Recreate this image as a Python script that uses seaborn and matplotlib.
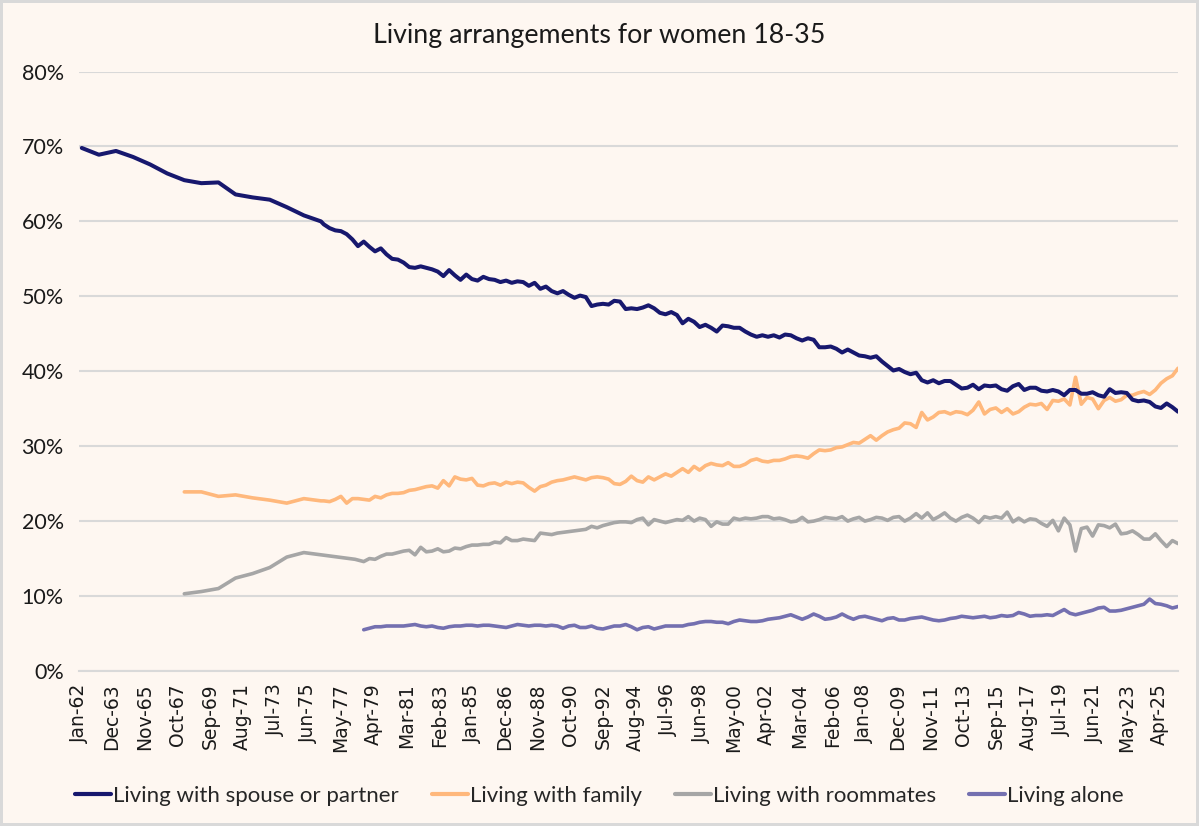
import matplotlib
matplotlib.use("Agg")
import matplotlib.pyplot as plt
import pandas as pd
import seaborn as sns

# yearly (March) readings before the monthly series begins, in percent
spouse_annual = [69.8, 68.9, 69.4, 68.6, 67.6, 66.4, 65.5, 65.1, 65.2, 63.6,
                 63.2, 62.9, 61.9, 60.8, 60.0]                  # 1962-1976
family_annual = [23.9, 23.9, 23.3, 23.5, 23.1, 22.8, 22.4, 23.0, 22.7]  # 1968-1976
roommates_annual = [10.3, 10.6, 11.0, 12.4, 13.0, 13.8, 15.2, 15.8, 15.5,
                    15.2, 14.9]                                 # 1968-1978

# readings every 4 months, May-1976 .. May-2026
spouse_4m = [59.6, 59.1,
             58.8, 58.7, 58.3, 57.6, 56.7, 57.3, 56.6, 56.0, 56.4, 55.6,
             55.0, 54.9, 54.5, 53.9, 53.8, 54.0, 53.8, 53.6, 53.3, 52.7,
             53.5, 52.8, 52.2, 52.9, 52.3, 52.1, 52.6, 52.3, 52.2, 51.9,
             52.1, 51.8, 52.0, 51.9, 51.4, 51.8, 51.0, 51.3, 50.7, 50.4,
             50.7, 50.2, 49.8, 50.1, 49.9, 48.7, 48.9, 49.0, 48.9, 49.4,
             49.3, 48.3, 48.4, 48.3, 48.5, 48.8, 48.4, 47.8, 47.6, 47.9,
             47.5, 46.4, 47.0, 46.6, 45.9, 46.2, 45.8, 45.3, 46.1, 46.0,
             45.8, 45.8, 45.3, 44.9, 44.6, 44.8, 44.6, 44.8, 44.5, 44.9,
             44.8, 44.4, 44.1, 44.4, 44.2, 43.2, 43.2, 43.3, 43.0, 42.5,
             42.9, 42.5, 42.1, 42.0, 41.8, 42.0, 41.3, 40.7, 40.1, 40.3,
             39.9, 39.6, 39.8, 38.8, 38.5, 38.8, 38.4, 38.7, 38.7, 38.2,
             37.7, 37.8, 38.2, 37.6, 38.1, 38.0, 38.1, 37.6, 37.4, 38.0,
             38.3, 37.5, 37.8, 37.8, 37.4, 37.3, 37.5, 37.3, 36.8, 37.5,
             37.5, 37.0, 37.0, 37.2, 36.8, 36.6, 37.6, 37.1, 37.2, 37.1,
             36.2, 36.0, 36.1, 35.9, 35.3, 35.1, 35.7, 35.2, 34.6]
family_4m = [22.7, 22.6,
             22.9, 23.3, 22.4, 23.0, 23.0, 22.9, 22.8, 23.3, 23.1, 23.5,
             23.7, 23.7, 23.8, 24.1, 24.2, 24.4, 24.6, 24.7, 24.4, 25.4,
             24.7, 25.9, 25.6, 25.5, 25.7, 24.8, 24.7, 25.0, 25.1, 24.8,
             25.2, 25.0, 25.2, 25.1, 24.5, 24.0, 24.6, 24.8, 25.2, 25.4,
             25.5, 25.7, 25.9, 25.7, 25.5, 25.8, 25.9, 25.8, 25.6, 25.0,
             24.9, 25.3, 26.0, 25.4, 25.2, 25.9, 25.5, 25.9, 26.3, 26.0,
             26.5, 27.0, 26.5, 27.3, 26.8, 27.4, 27.7, 27.5, 27.4, 27.8,
             27.3, 27.3, 27.6, 28.1, 28.3, 28.0, 27.9, 28.1, 28.1, 28.3,
             28.6, 28.7, 28.6, 28.4, 29.0, 29.5, 29.4, 29.5, 29.8, 29.9,
             30.2, 30.5, 30.4, 30.9, 31.4, 30.8, 31.4, 31.9, 32.2, 32.4,
             33.1, 33.0, 32.5, 34.5, 33.5, 33.9, 34.5, 34.6, 34.3, 34.6,
             34.5, 34.2, 34.8, 35.9, 34.3, 34.9, 35.1, 34.5, 35.0, 34.3,
             34.6, 35.2, 35.6, 35.5, 35.7, 34.9, 36.1, 36.0, 36.3, 35.5,
             39.2, 35.6, 36.5, 36.3, 35.0, 36.1, 36.5, 36.0, 36.2, 36.8,
             36.8, 37.1, 37.3, 36.9, 37.5, 38.4, 39.0, 39.4, 40.4]

# readings every 4 months, Sep-1978 .. May-2026
roommates_4m = [14.6, 15.0, 14.9, 15.3, 15.6,
                15.6, 15.8, 16.0, 16.1, 15.5, 16.5, 15.9, 16.0, 16.3, 15.9,
                16.0, 16.4, 16.3, 16.6, 16.8, 16.8, 16.9, 16.9, 17.2, 17.1,
                17.8, 17.4, 17.4, 17.6, 17.5, 17.4, 18.4, 18.3, 18.2, 18.4,
                18.5, 18.6, 18.7, 18.8, 18.9, 19.3, 19.1, 19.4, 19.6, 19.8,
                19.9, 19.9, 19.8, 20.2, 20.4, 19.5, 20.2, 20.0, 19.8, 20.0,
                20.2, 20.1, 20.6, 20.0, 20.4, 20.2, 19.3, 19.9, 19.6, 19.6,
                20.4, 20.2, 20.4, 20.3, 20.4, 20.6, 20.6, 20.3, 20.4, 20.2,
                19.9, 20.0, 20.5, 19.9, 20.0, 20.2, 20.5, 20.4, 20.3, 20.6,
                20.0, 20.3, 20.5, 20.0, 20.2, 20.5, 20.4, 20.1, 20.5, 20.6,
                20.0, 20.4, 21.0, 20.4, 21.1, 20.2, 20.6, 21.1, 20.4, 20.0,
                20.5, 20.8, 20.4, 19.8, 20.6, 20.4, 20.6, 20.4, 21.2, 19.9,
                20.4, 19.9, 20.3, 20.2, 19.7, 19.3, 20.1, 18.7, 20.4, 19.5,
                16.0, 19.0, 19.2, 18.0, 19.5, 19.4, 19.1, 19.6, 18.3, 18.4,
                18.7, 18.2, 17.6, 17.6, 18.3, 17.4, 16.6, 17.4, 17.0]
alone_4m = [5.5, 5.7, 5.9, 5.9, 6.0,
            6.0, 6.0, 6.0, 6.1, 6.2, 6.0, 5.9, 6.0, 5.8, 5.7,
            5.9, 6.0, 6.0, 6.1, 6.1, 6.0, 6.1, 6.1, 6.0, 5.9,
            5.8, 6.0, 6.2, 6.1, 6.0, 6.1, 6.1, 6.0, 6.1, 6.0,
            5.7, 6.0, 6.1, 5.8, 5.8, 6.0, 5.7, 5.6, 5.8, 6.0,
            6.0, 6.2, 5.9, 5.5, 5.8, 5.9, 5.6, 5.8, 6.0, 6.0,
            6.0, 6.0, 6.2, 6.3, 6.5, 6.6, 6.6, 6.5, 6.5, 6.3,
            6.6, 6.8, 6.7, 6.6, 6.6, 6.7, 6.9, 7.0, 7.1, 7.3,
            7.5, 7.2, 6.9, 7.2, 7.6, 7.3, 6.9, 7.0, 7.2, 7.6,
            7.2, 6.9, 7.2, 7.3, 7.1, 6.9, 6.7, 7.0, 7.1, 6.8,
            6.8, 7.0, 7.1, 7.2, 7.0, 6.8, 6.7, 6.8, 7.0, 7.1,
            7.3, 7.2, 7.1, 7.2, 7.3, 7.1, 7.2, 7.4, 7.3, 7.4,
            7.8, 7.6, 7.3, 7.4, 7.4, 7.5, 7.4, 7.8, 8.2, 7.7,
            7.5, 7.7, 7.9, 8.1, 8.4, 8.5, 8.0, 8.0, 8.1, 8.3,
            8.5, 8.7, 8.9, 9.6, 9.0, 8.9, 8.7, 8.4, 8.6]

names = ["Living with spouse or partner", "Living with family",
         "Living with roommates", "Living alone"]
colors = ["#17186E", "#FFB87C", "#A6A6A6", "#7470B0"]

def march(first_year, n):
    return pd.to_datetime([f"{first_year + i}-03-01" for i in range(n)])

grid = pd.date_range("1976-05-01", periods=len(spouse_4m), freq="4MS")

frames = [
    pd.DataFrame({"date": march(1962, len(spouse_annual)).append(grid),
                  "share": spouse_annual + spouse_4m, "series": names[0]}),
    pd.DataFrame({"date": march(1968, len(family_annual)).append(grid),
                  "share": family_annual + family_4m, "series": names[1]}),
    pd.DataFrame({"date": march(1968, len(roommates_annual)).append(grid[7:]),
                  "share": roommates_annual + roommates_4m, "series": names[2]}),
    pd.DataFrame({"date": grid[7:], "share": alone_4m, "series": names[3]}),
]
df = pd.concat(frames, ignore_index=True)

sns.set_theme(style="white")
bg = "#FEF7F1"
grid_col = "#D9D9D9"
plt.rcParams["font.family"] = ["Lato", "DejaVu Sans"]

fig = plt.figure(figsize=(11.99, 8.26), dpi=100, facecolor=bg)
fig.patch.set_edgecolor(grid_col)
fig.patch.set_linewidth(3)
ax = fig.add_axes([0.0659, 0.1877, 0.9166, 0.7257], facecolor=bg)

# draw back to front so spouse line sits on top like the original
for name, col, lw in zip(names[::-1], colors[::-1], [2.6, 2.6, 2.6, 2.9]):
    sns.lineplot(data=df[df["series"] == name], x="date", y="share",
                 color=col, linewidth=lw, estimator=None, ax=ax,
                 solid_joinstyle="round", solid_capstyle="round", zorder=3)

ax.set_ylim(0, 80)
ax.set_yticks(range(0, 81, 10))
ax.set_yticklabels([f"{v}%" for v in range(0, 81, 10)], fontsize=15.5, color="#1a1a1a")
ax.yaxis.grid(True, color=grid_col, linewidth=1.5)
ax.set_axisbelow(True)

ticks = pd.date_range("1962-01-01", "2025-04-30", freq="23MS")
ax.set_xticks(ticks)
ax.set_xticklabels([d.strftime("%b-%y") for d in ticks], rotation=90,
                   fontsize=13.5, family="DejaVu Sans", color="#1a1a1a")
ax.set_xlim(pd.Timestamp("1962-01-01"), pd.Timestamp("2026-05-01"))
ax.tick_params(axis="x", length=6, width=1.2, color=grid_col, pad=3)
ax.tick_params(axis="y", length=0, pad=11)
ax.set_xlabel("")
ax.set_ylabel("")
for side in ["left", "top", "right"]:
    ax.spines[side].set_visible(False)
ax.spines["bottom"].set_color(grid_col)
ax.spines["bottom"].set_linewidth(1.5)

fig.text(0.5, 1 - 36 / 826, "Living arrangements for women 18-35",
         ha="center", va="center", fontsize=19.3, color="#1a1a1a")

handles = [plt.Line2D([], [], color=c, linewidth=3) for c in colors]
fig.legend(handles, names, loc="center", bbox_to_anchor=(0.5, 1 - 796 / 826),
           ncol=4, frameon=False, fontsize=16, handlelength=1.6,
           handletextpad=0.1, columnspacing=1.5)

fig.savefig("out.png", dpi=100, facecolor=bg, edgecolor=grid_col)
